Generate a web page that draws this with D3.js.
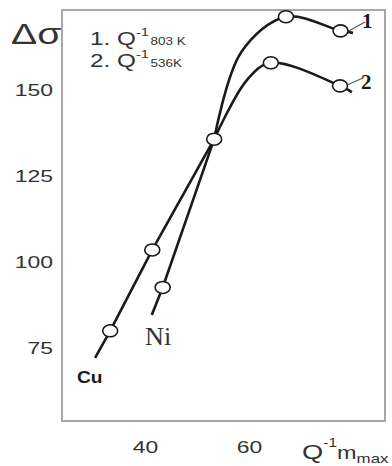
<!DOCTYPE html>
<html>
<head>
<meta charset="utf-8">
<script src="https://cdn.jsdelivr.net/npm/d3@7"></script>
<style>
  body { margin: 0; background: #fff; }
  text { fill: #333; }
</style>
</head>
<body>
<div id="chart"></div>
<script>
// Data
var xTicks = [40, 60]
var yTicks = [75, 100, 125, 150]

var cuLine = [[30.4, 72.1], [33.3, 80], [41.4, 103.5], [53.3, 135.7]]
var niLine = [[41.3, 84.6], [43.4, 92.6], [53.3, 135.7]]
var curve1 = [[53.3, 135.7], [58.5, 161], [67.1, 171.3], [77.6, 167.2], [80, 166.6]]
var curve2 = [[53.3, 135.7], [59.6, 152.9], [64.2, 157.9], [77.5, 151.2], [79.8, 149.4]]
var markers = [[33.3, 80], [41.4, 103.5], [43.4, 92.6], [53.3, 135.7],
               [67.1, 171.3], [77.6, 167.2], [64.2, 157.9], [77.5, 151.2]]

var sans = 'Liberation Sans, Arial, sans-serif'
var serif = 'Liberation Serif, Times New Roman, serif'
var stretch = 'scale(1.35,1)'

var svg = d3.select('#chart')
  .append('svg')
  .attr('width', 392)
  .attr('height', 466)

var x = d3.scaleLinear().domain([40, 60]).range([145, 249])
var y = d3.scaleLinear().domain([75, 150]).range([348, 90])

// frame
svg.append('rect')
  .attr('x', 62)
  .attr('y', 10)
  .attr('width', 323)
  .attr('height', 411)
  .attr('fill', 'none')
  .attr('stroke', '#a8a8a8')
  .attr('stroke-width', 2)

// axes (labels only)
var yAxis = svg.append('g')
  .attr('transform', 'translate(53,0)')
  .call(d3.axisLeft(y).tickValues(yTicks).tickSize(0).tickPadding(0))
yAxis.select('.domain').remove()
yAxis.selectAll('text')
  .attr('x', 0)
  .attr('transform', stretch)
  .style('font-family', sans)
  .style('font-size', '17px')
  .style('fill', '#333')

var xAxis = svg.append('g')
  .attr('transform', 'translate(0,441)')
  .call(d3.axisBottom(x).tickValues(xTicks).tickSize(0).tickPadding(0))
xAxis.select('.domain').remove()
xAxis.selectAll('text')
  .attr('y', 0)
  .attr('transform', stretch)
  .style('font-family', sans)
  .style('font-size', '17px')
  .style('fill', '#333')

// lines
var straight = d3.line().x(d => x(d[0])).y(d => y(d[1]))
var smooth = d3.line().x(d => x(d[0])).y(d => y(d[1])).curve(d3.curveCatmullRom.alpha(0.5))

svg.append('path').attr('d', straight(cuLine))
svg.append('path').attr('d', straight(niLine))
svg.append('path').attr('d', smooth(curve1))
svg.append('path').attr('d', smooth(curve2))
svg.selectAll('path')
  .attr('fill', 'none')
  .attr('stroke', '#1a1a1a')
  .attr('stroke-width', 2.6)

// leaders to curve numbers
svg.append('line')
  .attr('x1', 347).attr('y1', 32).attr('x2', 365).attr('y2', 22)
  .attr('stroke', '#555').attr('stroke-width', 1.2)
svg.append('line')
  .attr('x1', 347).attr('y1', 85).attr('x2', 363).attr('y2', 78)
  .attr('stroke', '#555').attr('stroke-width', 1.2)

svg.selectAll('.mark')
  .data(markers)
  .enter()
  .append('ellipse')
  .attr('class', 'mark')
  .attr('cx', d => x(d[0]))
  .attr('cy', d => y(d[1]))
  .attr('rx', 7.5)
  .attr('ry', 6)
  .attr('fill', '#fff')
  .attr('stroke', '#1a1a1a')
  .attr('stroke-width', 1.6)

// Δσ
svg.append('text')
  .attr('transform', 'translate(11,44) ' + stretch)
  .style('font-family', sans)
  .style('font-size', '29px')
  .text('Δσ')

// legend
var leg = [['1. Q', '803 K', 45], ['2. Q', '536K', 67]]
leg.forEach(function(l){
  var t = svg.append('text')
    .attr('transform', 'translate(90,' + l[2] + ') ' + stretch)
    .style('font-family', sans)
  t.append('tspan').text(l[0]).style('font-size', '18px')
  t.append('tspan').text('-1').style('font-size', '11px').attr('dy', -9)
  t.append('tspan').text(l[1]).style('font-size', '10px').attr('dx', 1).attr('dy', 9)
})

// x label
var xl = svg.append('text')
  .attr('transform', 'translate(302,459) scale(1.3,1)')
  .style('font-family', sans)
xl.append('tspan').text('Q').style('font-size', '21px')
xl.append('tspan').text('-1').style('font-size', '12px').attr('dy', -12)
xl.append('tspan').text('m').style('font-size', '18px').attr('dy', 12)
xl.append('tspan').text('max').style('font-size', '13px').attr('dy', 4)

// curve numbers
svg.append('text')
  .attr('x', 362).attr('y', 28)
  .style('font-family', serif)
  .style('font-weight', 'bold')
  .style('font-size', '21px')
  .style('fill', '#1a1a1a')
  .text('1')
svg.append('text')
  .attr('x', 361).attr('y', 89)
  .style('font-family', serif)
  .style('font-weight', 'bold')
  .style('font-size', '21px')
  .style('fill', '#1a1a1a')
  .text('2')

// metal labels
svg.append('text')
  .attr('transform', 'translate(77,383) scale(1.2,1)')
  .style('font-family', sans)
  .style('font-weight', 'bold')
  .style('font-size', '16px')
  .style('fill', '#1a1a1a')
  .text('Cu')
svg.append('text')
  .attr('transform', 'translate(145,345) scale(1.05,1)')
  .style('font-family', serif)
  .style('font-size', '25px')
  .style('fill', '#333')
  .text('Ni')
</script>
</body>
</html>
